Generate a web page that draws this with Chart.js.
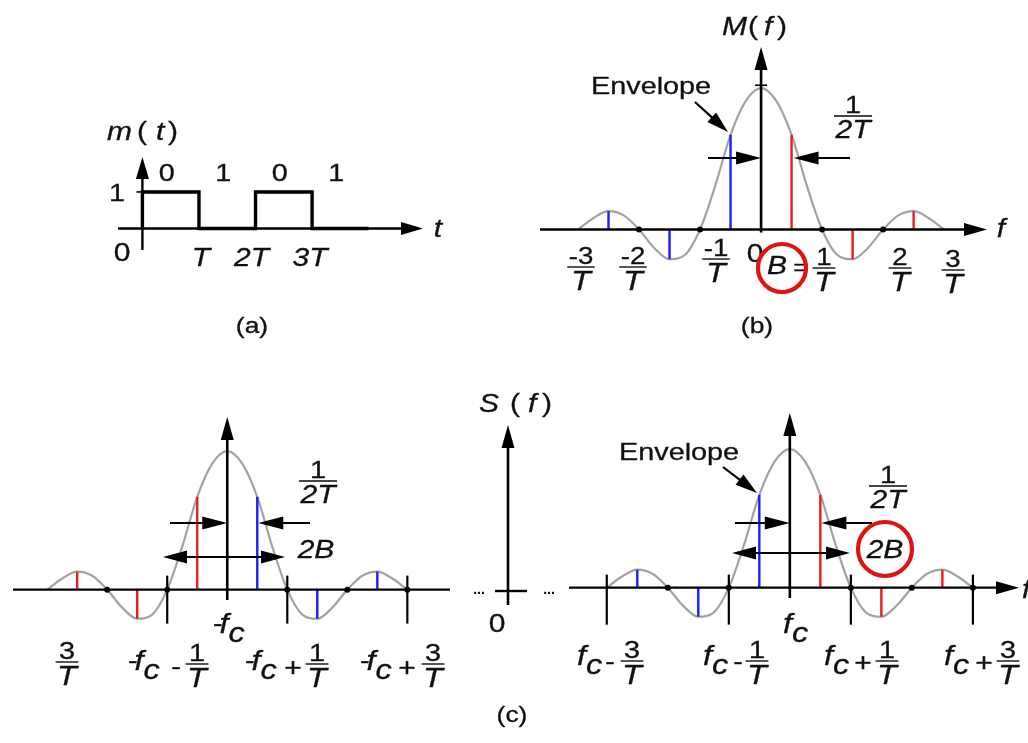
<!DOCTYPE html>
<html>
<head>
<meta charset="utf-8">
<title>Rectangular pulse train spectrum</title>
<script src="https://cdn.jsdelivr.net/npm/chart.js@4.4.1/dist/chart.umd.min.js"></script>
<style>
  html, body { margin: 0; padding: 0; background: #fff; overflow: hidden; }
  #wrap { position: relative; width: 1028px; height: 743px; }
  canvas { display: block; }
</style>
</head>
<body>
<div id="wrap"><canvas id="fig" width="1028" height="743"></canvas></div>
<script>
// ---- data -------------------------------------------------------------
// (a) bit pattern of m(t), one bit per interval T
const bits = [0, 1, 0, 1];
const timeTicks = ['T', '2T', '3T'];

// sinc envelope, sampled every 1/(4T) from -3/T to 3/T
const envFreq = [-3, -2.75, -2.5, -2.25, -2, -1.75, -1.5, -1.25, -1, -0.75, -0.5, -0.25,
                 0, 0.25, 0.5, 0.75, 1, 1.25, 1.5, 1.75, 2, 2.25, 2.5, 2.75, 3];
const envAmp  = [0, 0.08, 0.13, 0.10, 0, -0.13, -0.21, -0.18, 0, 0.31, 0.67, 0.91,
                 1, 0.91, 0.67, 0.31, 0, -0.18, -0.21, -0.13, 0, 0.10, 0.13, 0.08, 0];

// spectral lines at odd multiples of 1/(2T)
const lineFreq = [-2.5, -1.5, -0.5, 0.5, 1.5, 2.5];
const lineAmp  = [0.13, -0.21, 0.67, 0.67, -0.21, 0.13];

// zero crossings marked with a dot on each frequency axis
const zerosB = [-2, -1, 1, 2];
const zerosL = [-2, -1, 1, 2, 3];
const zerosR = [-2, -1, 1, 2, 3];

// ---- frames: pixel origin and pixels per unit for each panel ----------
const W = 1028, H = 743;
const frames = {
  a: { x0: 139.5, ux: 57,   y0: 227, uy: 37  },
  b: { x0: 763,   ux: 61.5, y0: 228, uy: 143 },
  l: { x0: 225,   ux: 60.5, y0: 592, uy: 140 },
  r: { x0: 792,   ux: 61.5, y0: 590, uy: 140 }
};
const BLUE = '#1c1cff', RED = '#f01a1a', GREY = '#a2a2a2', INK = '#111';

const scales = {};
for (const id of Object.keys(frames)) {
  const f = frames[id];
  scales['x' + id] = { type: 'linear', display: false, min: -f.x0 / f.ux, max: (W - f.x0) / f.ux };
  scales['y' + id] = { type: 'linear', display: false, min: (f.y0 - H) / f.uy, max: f.y0 / f.uy };
}

const datasets = [];
// (a) NRZ waveform
datasets.push({
  data: bits.map((b, i) => ({ x: i, y: b })).concat([{ x: bits.length, y: 0 }]),
  xAxisID: 'xa', yAxisID: 'ya', stepped: 'after',
  borderColor: '#000', borderWidth: 3.4, pointRadius: 0, order: 0
});

// spectra: (b) baseband, (c) the two shifted copies
const spectra = [
  { id: 'b', left: BLUE, right: RED,  zeros: zerosB },
  { id: 'l', left: RED,  right: BLUE, zeros: zerosL },
  { id: 'r', left: BLUE, right: RED,  zeros: zerosR }
];
for (const s of spectra) {
  datasets.push({
    data: s.zeros.map(z => ({ x: z, y: 0 })),
    xAxisID: 'x' + s.id, yAxisID: 'y' + s.id, showLine: false,
    pointRadius: 3, pointBackgroundColor: '#000', pointBorderWidth: 0, order: 0
  });
  lineFreq.forEach((fq, i) => {
    datasets.push({
      data: [{ x: fq, y: 0 }, { x: fq, y: lineAmp[i] }],
      xAxisID: 'x' + s.id, yAxisID: 'y' + s.id,
      borderColor: fq < 0 ? s.left : s.right, borderWidth: 2.4, pointRadius: 0, order: 1
    });
  });
  datasets.push({
    data: envFreq.map((fq, i) => ({ x: fq, y: envAmp[i] })),
    xAxisID: 'x' + s.id, yAxisID: 'y' + s.id,
    cubicInterpolationMode: 'monotone',
    borderColor: GREY, borderWidth: 2.2, pointRadius: 0, order: 2
  });
}

// ---- drawing helpers --------------------------------------------------
const FONT = '"Liberation Sans", Arial, Helvetica, sans-serif';
const SX = 1.2; // lettering is set slightly wide
function font(ctx, size, italic) {
  ctx.font = (italic ? 'italic ' : '') + size + 'px ' + FONT;
}
function text(ctx, s, x, y, size, opt) {
  opt = opt || {};
  ctx.save();
  font(ctx, size, opt.italic);
  ctx.fillStyle = opt.color || INK;
  ctx.strokeStyle = opt.color || INK;
  ctx.lineWidth = 0.3;
  ctx.textAlign = opt.align || 'center';
  ctx.textBaseline = 'alphabetic';
  ctx.translate(x, y);
  ctx.scale(SX, 1);
  ctx.fillText(s, 0, 0);
  ctx.strokeText(s, 0, 0);
  ctx.restore();
}
function width(ctx, s, size, italic) {
  font(ctx, size, italic);
  return ctx.measureText(s).width * SX;
}
function frac(ctx, cx, barY, num, den, nSize, dSize) {
  const w = Math.max(width(ctx, num, nSize, false), width(ctx, den, dSize, true)) + 3;
  text(ctx, num, cx, barY - 3, nSize);
  ctx.save();
  ctx.strokeStyle = '#444';
  ctx.lineWidth = 1.8;
  ctx.beginPath();
  ctx.moveTo(cx - w / 2, barY);
  ctx.lineTo(cx + w / 2, barY);
  ctx.stroke();
  ctx.restore();
  text(ctx, den, cx, barY + 4 + 0.716 * dSize, dSize, { italic: true });
}
// f with subscript c, optionally preceded by a minus sign
function fc(ctx, x, base, neg) {
  let cx = x;
  if (neg) {
    text(ctx, '-', cx, base - 2, 24, { align: 'left' });
    cx += width(ctx, '-', 24, false) - 3;
  }
  text(ctx, 'f', cx, base, 27, { italic: true, align: 'left' });
  cx += width(ctx, 'f', 27, true);
  text(ctx, 'c', cx, base + 9, 27, { italic: true, align: 'left' });
}
function seg(ctx, x1, y1, x2, y2, lw, color) {
  ctx.save();
  ctx.strokeStyle = color || '#000';
  ctx.lineWidth = lw || 2.4;
  ctx.beginPath();
  ctx.moveTo(x1, y1);
  ctx.lineTo(x2, y2);
  ctx.stroke();
  ctx.restore();
}
function head(ctx, tx, ty, fromX, fromY, len, half) {
  const dx = tx - fromX, dy = ty - fromY, d = Math.hypot(dx, dy);
  const ux = dx / d, uy = dy / d;
  const bx = tx - ux * len, by = ty - uy * len;
  ctx.save();
  ctx.fillStyle = '#000';
  ctx.beginPath();
  ctx.moveTo(tx, ty);
  ctx.lineTo(bx - uy * half, by + ux * half);
  ctx.lineTo(bx + uy * half, by - ux * half);
  ctx.closePath();
  ctx.fill();
  ctx.restore();
}
function arrow(ctx, x1, y1, x2, y2, len, half, lw) {
  const d = Math.hypot(x2 - x1, y2 - y1);
  const k = (d - len * 0.6) / d;
  seg(ctx, x1, y1, x1 + (x2 - x1) * k, y1 + (y2 - y1) * k, lw || 2.2);
  head(ctx, x2, y2, x1, y1, len, half);
}
function ring(ctx, x, y, r) {
  ctx.save();
  ctx.strokeStyle = '#e01212';
  ctx.lineWidth = 4.2;
  ctx.beginPath();
  ctx.arc(x, y, r, 0, Math.PI * 2);
  ctx.stroke();
  ctx.restore();
}

// ---- axes, arrows and lettering --------------------------------------
const decorations = {
  id: 'decorations',
  afterDatasetsDraw(chart) {
    const ctx = chart.ctx;
    const X = (id, v) => chart.scales['x' + id].getPixelForValue(v);
    const Y = (id, v) => chart.scales['y' + id].getPixelForValue(v);

    // (a) m(t)
    const ax = X('a', 0), ay = Y('a', 0), a1 = Y('a', 1);
    seg(ctx, 118, ay, 406, ay, 2.4);
    head(ctx, 423, ay, 118, ay, 22, 6.5);
    seg(ctx, ax, 250, ax, 175, 2.4);
    head(ctx, ax, 157, ax, 250, 22, 6.5);
    seg(ctx, ax - 6, a1, ax + 6, a1, 1.6);
    text(ctx, 'm', 107, 140, 25, { italic: true, align: 'left' });
    text(ctx, '(', 137, 140, 25, { align: 'left' });
    text(ctx, 't', 156, 140, 25, { italic: true, align: 'left' });
    text(ctx, ')', 168, 140, 25, { align: 'left' });
    bits.forEach((b, i) => text(ctx, String(b), X('a', i + 0.5) - 4, 181, 24));
    text(ctx, '1', 117, 201, 24);
    text(ctx, '0', 122, 261, 25);
    text(ctx, 't', 438, 237, 25, { italic: true });
    timeTicks.forEach((t, i) => text(ctx, t, X('a', i + 1) + [2, -4, -2][i], 266, 25, { italic: true }));
    text(ctx, '(a)', 252, 333, 22);

    // (b) M(f)
    const bx = X('b', 0), by = Y('b', 0);
    seg(ctx, 540, by, 968, by, 2.4);
    head(ctx, 987, by, 540, by, 23, 6.5);
    seg(ctx, bx, by + 3, bx, 66, 2.6);
    head(ctx, bx, 47, bx, by, 23, 6.5);
    seg(ctx, bx - 6, Y('b', 1.02), bx + 6, Y('b', 1.02), 1.6);
    text(ctx, 'M', 722, 35, 25, { italic: true, align: 'left' });
    text(ctx, '(', 748, 35, 25, { align: 'left' });
    text(ctx, 'f', 764, 35, 25, { italic: true, align: 'left' });
    text(ctx, ')', 777, 35, 25, { align: 'left' });
    text(ctx, 'f', 1001, 237, 25, { italic: true });
    text(ctx, 'Envelope', 591, 94, 24, { align: 'left' });
    arrow(ctx, 695, 102, 728, 132, 22, 6.5, 2.2);
    arrow(ctx, 708, 158, bx, 158, 25, 6.5, 2.2);
    arrow(ctx, 850, 158, X('b', 0.5) + 2, 158, 25, 6.5, 2.2);
    frac(ctx, 853, 116, '1', '2T', 24, 25);
    frac(ctx, 581, 267, '-3', 'T', 23, 27);
    frac(ctx, 633, 267, '-2', 'T', 23, 27);
    frac(ctx, 716, 259, '-1', 'T', 23, 27);
    frac(ctx, 824, 268, '1', 'T', 23, 27);
    frac(ctx, 900, 268, '2', 'T', 23, 27);
    frac(ctx, 953, 270, '3', 'T', 23, 27);
    text(ctx, '0', 755, 262, 25);
    text(ctx, 'B', 777, 274, 25, { italic: true });
    text(ctx, '=', 801, 275, 22);
    ring(ctx, 782, 268, 24);
    text(ctx, '(b)', 757, 333, 22);

    // (c) left copy at -fc
    const lx = X('l', 0), ly = Y('l', 0);
    seg(ctx, 13, ly, 450, ly, 2.4);
    seg(ctx, lx, 600, lx, 436, 2.6);
    head(ctx, lx, 417, lx, 600, 23, 6.5);
    [-1, 1, 3].forEach(k => seg(ctx, X('l', k), ly - 14, X('l', k), ly + 34, 2.2));
    arrow(ctx, 170, 523, lx, 523, 25, 6.5, 2.2);
    arrow(ctx, 310, 523, X('l', 0.5) + 1, 523, 25, 6.5, 2.2);
    seg(ctx, 180, 557, 270, 557, 2.2);
    head(ctx, 163, 557, 285, 557, 24, 6.5);
    head(ctx, 285, 557, 163, 557, 24, 6.5);
    frac(ctx, 318, 481, '1', '2T', 24, 25);
    text(ctx, '2B', 316, 558, 25, { italic: true });
    fc(ctx, 213, 633, true);
    frac(ctx, 67, 662, '3', 'T', 24, 27);
    fc(ctx, 128, 670, true);
    text(ctx, '-', 176, 674, 24);
    frac(ctx, 197, 664, '1', 'T', 24, 27);
    fc(ctx, 245, 670, true);
    text(ctx, '+', 293, 676, 25);
    frac(ctx, 317, 664, '1', 'T', 24, 27);
    fc(ctx, 360, 670, true);
    text(ctx, '+', 407, 676, 25);
    frac(ctx, 433, 664, '3', 'T', 24, 27);

    // (c) S(f) axis
    seg(ctx, 508, 605, 508, 444, 2.6);
    head(ctx, 508, 425, 508, 605, 23, 6.5);
    seg(ctx, 495, 591, 527, 591, 2.4);
    ctx.save();
    ctx.fillStyle = '#000';
    ctx.font = 'bold 14px ' + FONT;
    ctx.textAlign = 'center';
    ctx.fillText('...', 479, 594);
    ctx.fillText('...', 549, 594);
    ctx.restore();
    text(ctx, 'S', 479, 412, 25, { italic: true, align: 'left' });
    text(ctx, '(', 510, 412, 25, { align: 'left' });
    text(ctx, 'f', 528, 412, 25, { italic: true, align: 'left' });
    text(ctx, ')', 542, 412, 25, { align: 'left' });
    text(ctx, '0', 497, 632, 25);

    // (c) right copy at +fc
    const rx = X('r', 0), ry = Y('r', 0);
    seg(ctx, 569, ry, 1000, ry, 2.4);
    head(ctx, 1019, ry, 569, ry, 23, 6.5);
    text(ctx, 'f', 1022, 598, 25, { italic: true, align: 'left' });
    seg(ctx, rx, 598, rx, 432, 2.6);
    head(ctx, rx, 413, rx, 598, 23, 6.5);
    [-3, -1, 1, 3].forEach(k => seg(ctx, X('r', k), ry - 13, X('r', k), ry + 37, 2.2));
    text(ctx, 'Envelope', 619, 460, 24, { align: 'left' });
    arrow(ctx, 723, 467, 757, 493, 22, 6.5, 2.2);
    arrow(ctx, 735, 523, rx, 523, 25, 6.5, 2.2);
    arrow(ctx, 872, 523, X('r', 0.5) + 1, 523, 25, 6.5, 2.2);
    seg(ctx, 750, 553, 833, 553, 2.2);
    head(ctx, 732, 553, 850, 553, 24, 6.5);
    head(ctx, 850, 553, 732, 553, 24, 6.5);
    frac(ctx, 888, 486, '1', '2T', 24, 25);
    text(ctx, '2B', 885, 558, 25, { italic: true });
    ring(ctx, 885, 549, 27);
    fc(ctx, 783, 633, false);
    fc(ctx, 577, 665, false);
    text(ctx, '-', 610, 669, 24);
    frac(ctx, 632, 661, '3', 'T', 24, 27);
    fc(ctx, 703, 665, false);
    text(ctx, '-', 738, 669, 24);
    frac(ctx, 757, 661, '1', 'T', 24, 27);
    fc(ctx, 824, 665, false);
    text(ctx, '+', 863, 671, 25);
    frac(ctx, 887, 661, '1', 'T', 24, 27);
    fc(ctx, 944, 665, false);
    text(ctx, '+', 984, 671, 25);
    frac(ctx, 1008, 661, '3', 'T', 24, 27);
    text(ctx, '(c)', 512, 722, 22);
  }
};

new Chart(document.getElementById('fig'), {
  type: 'line',
  data: { datasets },
  options: {
    responsive: false,
    animation: false,
    devicePixelRatio: 1,
    events: [],
    layout: { padding: 0 },
    scales,
    plugins: { legend: { display: false }, tooltip: { enabled: false } }
  },
  plugins: [decorations]
});
</script>
</body>
</html>
